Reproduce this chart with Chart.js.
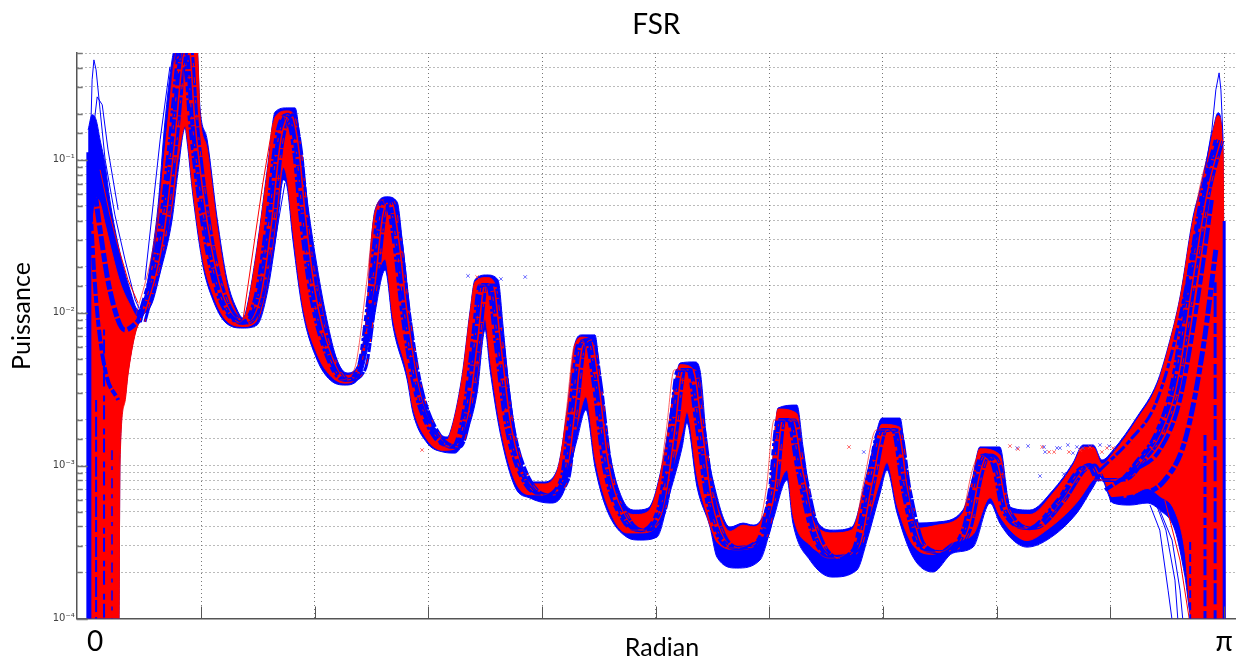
<!DOCTYPE html>
<html>
<head>
<meta charset="utf-8">
<title>FSR</title>
<script src="https://cdn.jsdelivr.net/npm/chart.js@4"></script>
<style>
body { margin: 0; background: #fff; }
canvas { display: block; }
</style>
</head>
<body>
<canvas id="fsr" width="1236" height="660"></canvas>
<script>
// FSR - all y values are log10(puissance)

const xTickValues = [0.021, 0.314, 0.628, 0.942, 1.257, 1.571, 1.885, 2.199, 2.513, 2.827, 3.142];
const xTickLabels = ['0', '', '', '', '', '', '', '', '', '', 'π'];

const envTopX = [0.002,0.013,0.024,0.035,0.049,0.062,0.090,0.118,0.140,0.154,0.173,0.195,0.214,0.234,0.242,0.303,0.311,0.331,0.358,0.386,0.414,0.430,0.441,0.469,0.497,0.519,0.552,0.574,0.588,0.610,0.635,0.662,0.690,0.718,0.745,0.773,0.781,0.795,0.828,0.856,0.872,0.905,0.939,0.994,1.002,1.035,1.058,1.071,1.104,1.135,1.149,1.163,1.196,1.232,1.259,1.298,1.326,1.348,1.367,1.403,1.417,1.444,1.480,1.514,1.550,1.591,1.624,1.638,1.679,1.693,1.713,1.729,1.776,1.812,1.840,1.887,1.909,1.961,1.978,2.006,2.061,2.113,2.155,2.172,2.196,2.246,2.265,2.293,2.348,2.420,2.445,2.467,2.522,2.550,2.605,2.669,2.724,2.752,2.780,2.804,2.835,2.901,2.956,2.987,3.020,3.056,3.075,3.095,3.111,3.125,3.139,3.144];
const envTop = [-0.804,-0.705,-0.738,-0.869,-1.033,-1.262,-1.609,-1.851,-1.982,-1.936,-1.700,-1.308,-0.758,-0.346,-0.267,-0.267,-0.653,-0.869,-1.373,-1.785,-1.982,-2.034,-1.962,-1.569,-1.065,-0.686,-0.660,-0.660,-0.869,-1.308,-1.700,-2.047,-2.309,-2.394,-2.355,-1.962,-1.635,-1.327,-1.242,-1.275,-1.569,-2.263,-2.636,-2.813,-2.787,-2.420,-1.982,-1.785,-1.753,-1.785,-2.093,-2.440,-2.944,-3.107,-3.107,-3.029,-2.636,-2.198,-2.145,-2.145,-2.420,-2.918,-3.225,-3.291,-3.278,-2.964,-2.460,-2.329,-2.322,-2.374,-2.878,-3.094,-3.402,-3.376,-3.389,-3.140,-2.623,-2.604,-2.878,-3.310,-3.422,-3.402,-3.049,-2.878,-2.689,-2.689,-3.049,-3.376,-3.369,-3.291,-3.094,-2.878,-2.878,-3.271,-3.291,-3.160,-2.983,-2.865,-2.865,-2.964,-2.898,-2.682,-2.460,-2.224,-1.897,-1.373,-1.196,-0.980,-0.804,-0.692,-0.935,-4.010];
const redTop = [-1.60,-1.45,-1.25,-1.28,-1.42,-1.55,-1.80,-1.95,-2.03,-1.97,-1.78,-1.42,-0.95,-0.50,-0.36,-0.267,-0.70,-0.93,-1.43,-1.83,-2.01,-2.05,-1.98,-1.59,-1.09,-0.72,-0.68,-0.72,-0.98,-1.42,-1.80,-2.12,-2.35,-2.41,-2.37,-1.98,-1.66,-1.35,-1.26,-1.38,-1.68,-2.34,-2.68,-2.83,-2.80,-2.44,-2.00,-1.80,-1.77,-1.88,-2.20,-2.53,-2.99,-3.12,-3.12,-3.04,-2.65,-2.21,-2.16,-2.22,-2.50,-2.98,-3.27,-3.32,-3.30,-2.98,-2.47,-2.34,-2.38,-2.46,-2.96,-3.16,-3.43,-3.39,-3.40,-3.15,-2.63,-2.66,-2.96,-3.36,-3.44,-3.42,-3.07,-2.92,-2.73,-2.75,-3.12,-3.41,-3.39,-3.31,-3.11,-2.89,-2.93,-3.31,-3.32,-3.18,-3.00,-2.88,-2.88,-2.99,-2.92,-2.70,-2.48,-2.24,-1.91,-1.40,-1.22,-1.00,-0.82,-0.71,-0.95,-4.01];

const envBottomX = [0.002,0.087,0.090,0.104,0.112,0.132,0.151,0.179,0.201,0.234,0.250,0.270,0.275,0.292,0.320,0.347,0.380,0.430,0.469,0.497,0.524,0.541,0.552,0.568,0.596,0.635,0.671,0.712,0.753,0.789,0.823,0.845,0.884,0.900,0.939,0.983,1.016,1.044,1.077,1.099,1.113,1.141,1.182,1.223,1.279,1.315,1.353,1.378,1.403,1.436,1.491,1.527,1.574,1.610,1.644,1.657,1.685,1.721,1.740,1.795,1.859,1.895,1.934,1.950,1.997,2.058,2.127,2.155,2.191,2.210,2.238,2.282,2.337,2.392,2.448,2.495,2.522,2.558,2.597,2.652,2.735,2.780,2.799,2.835,2.882,2.929,2.964,3.006,3.033,3.053,3.144];
const envBottom = [-4.04,-4.04,-2.944,-2.551,-2.394,-2.132,-2.028,-1.936,-1.740,-1.393,-1.085,-0.791,-0.869,-1.242,-1.700,-1.916,-2.060,-2.100,-2.080,-1.870,-1.458,-1.131,-1.177,-1.524,-2.001,-2.309,-2.440,-2.473,-2.420,-2.070,-1.720,-2.093,-2.440,-2.656,-2.852,-2.911,-2.918,-2.813,-2.525,-2.113,-2.374,-2.787,-3.140,-3.212,-3.245,-3.179,-2.833,-2.636,-3.009,-3.291,-3.468,-3.487,-3.468,-3.179,-2.878,-2.721,-3.140,-3.402,-3.598,-3.670,-3.618,-3.356,-3.094,-3.376,-3.618,-3.729,-3.683,-3.487,-3.179,-3.029,-3.310,-3.598,-3.696,-3.572,-3.533,-3.245,-3.376,-3.487,-3.533,-3.487,-3.310,-3.140,-3.075,-3.245,-3.258,-3.245,-3.291,-3.422,-3.716,-4.01,-4.01];
const redBottom = [-4.04,-4.04,-3.00,-2.58,-2.41,-2.14,-2.03,-1.90,-1.68,-1.30,-1.00,-0.78,-0.83,-1.20,-1.66,-1.88,-2.04,-2.09,-2.05,-1.80,-1.35,-1.05,-1.12,-1.46,-1.96,-2.27,-2.41,-2.46,-2.39,-1.88,-1.65,-2.04,-2.40,-2.62,-2.83,-2.90,-2.89,-2.74,-2.42,-2.04,-2.30,-2.74,-3.10,-3.19,-3.19,-3.10,-2.74,-2.55,-2.95,-3.25,-3.44,-3.44,-3.40,-3.08,-2.78,-2.65,-3.07,-3.38,-3.50,-3.55,-3.50,-3.25,-3.03,-3.32,-3.52,-3.58,-3.55,-3.38,-3.10,-2.98,-3.26,-3.52,-3.58,-3.50,-3.45,-3.21,-3.33,-3.44,-3.49,-3.42,-3.24,-3.09,-3.05,-3.21,-3.20,-3.15,-3.20,-3.30,-3.55,-4.01,-4.01];

// inner strands of the band
const spineX = [0.145,0.201,0.234,0.256,0.273,0.289,0.311,0.339,0.372,0.430,0.472,0.499,0.527,0.554,0.577,0.593,0.621,0.657,0.712,0.753,0.787,0.809,0.831,0.853,0.875,0.908,0.961,1.016,1.047,1.071,1.091,1.113,1.135,1.163,1.210,1.265,1.315,1.340,1.362,1.384,1.406,1.433,1.486,1.527,1.583,1.616,1.638,1.666,1.688,1.721,1.790,1.859,1.892,1.914,1.942,1.969,2.011,2.067,2.122,2.163,2.196,2.232,2.260,2.301,2.357,2.426,2.462,2.481,2.509,2.536,2.605,2.688,2.744,2.771,2.799,2.854,2.909,2.964,3.006,3.048,3.089,3.125];
const spine = [-2.060,-1.524,-0.869,-0.346,-0.267,-0.738,-1.196,-1.622,-1.916,-2.067,-1.884,-1.458,-0.869,-0.705,-0.935,-1.327,-1.851,-2.211,-2.440,-2.374,-1.818,-1.360,-1.262,-1.524,-1.982,-2.473,-2.800,-2.878,-2.636,-2.178,-1.818,-1.818,-2.211,-2.734,-3.094,-3.193,-3.094,-2.636,-2.211,-2.178,-2.473,-2.996,-3.356,-3.422,-3.291,-2.767,-2.374,-2.374,-2.702,-3.258,-3.539,-3.487,-3.160,-2.702,-2.702,-3.029,-3.454,-3.605,-3.553,-3.094,-2.767,-2.767,-3.160,-3.520,-3.566,-3.422,-3.029,-2.931,-2.996,-3.291,-3.409,-3.225,-3.029,-2.996,-3.094,-3.094,-2.964,-2.767,-2.440,-1.785,-1.196,-0.869];
const strandRightX = [0.159,0.215,0.248,0.270,0.287,0.303,0.325,0.353,0.386,0.444,0.486,0.513,0.541,0.568,0.591,0.607,0.635,0.671,0.726,0.767,0.801,0.823,0.845,0.867,0.889,0.922,0.975,1.030,1.061,1.085,1.105,1.127,1.149,1.177,1.224,1.279,1.329,1.354,1.376,1.398,1.420,1.447,1.500,1.541,1.597,1.630,1.652,1.680,1.702,1.735,1.804,1.873,1.906,1.928,1.956,1.983,2.025,2.081,2.136,2.177,2.210,2.246,2.274,2.315,2.371,2.440,2.476,2.495,2.523,2.550,2.619,2.702,2.758,2.785,2.813,2.868,2.923,2.978,3.020,3.062,3.103,3.139];
const strandMidX = [0.137,0.193,0.226,0.248,0.265,0.281,0.303,0.331,0.364,0.422,0.464,0.491,0.519,0.546,0.569,0.585,0.613,0.649,0.704,0.745,0.779,0.801,0.823,0.845,0.867,0.900,0.953,1.008,1.039,1.063,1.083,1.105,1.127,1.155,1.202,1.257,1.307,1.332,1.354,1.376,1.398,1.425,1.478,1.519,1.575,1.608,1.630,1.658,1.680,1.713,1.782,1.851,1.884,1.906,1.934,1.961,2.003,2.059,2.114,2.155,2.188,2.224,2.252,2.293,2.349,2.418,2.454,2.473,2.501,2.528,2.597,2.680,2.736,2.763,2.791,2.846,2.901,2.956,2.998,3.040,3.081,3.117];
const strandLeftX = [0.129,0.185,0.218,0.240,0.257,0.273,0.295,0.323,0.356,0.414,0.456,0.483,0.511,0.538,0.561,0.577,0.605,0.641,0.696,0.737,0.771,0.793,0.815,0.837,0.859,0.892,0.945,1.000,1.031,1.055,1.075,1.097,1.119,1.147,1.194,1.249,1.299,1.324,1.346,1.368,1.390,1.417,1.470,1.511,1.567,1.600,1.622,1.650,1.672,1.705,1.774,1.843,1.876,1.898,1.926,1.953,1.995,2.051,2.106,2.147,2.180,2.216,2.244,2.285,2.341,2.410,2.446,2.465,2.493,2.520,2.589,2.672,2.728,2.755,2.783,2.838,2.893,2.948,2.990,3.032,3.073,3.109];

// stray traces that leave the main band
const spikeLeftX = [0.007,0.013,0.018,0.024,0.035,0.049,0.076,0.104,0.132,0.145];
const spikeLeft = [-1.000,-0.476,-0.346,-0.411,-0.673,-1.000,-1.360,-1.654,-1.916,-1.982];
const spikeLeft2X = [0.013,0.027,0.041,0.057,0.085];
const spikeLeft2 = [-0.869,-0.588,-0.640,-0.935,-1.327];
const strayRedLeftX = [0.035,0.062,0.082,0.112,0.140];
const strayRedLeft = [-1.065,-1.360,-1.543,-1.785,-1.936];
const strayBluePeak1X = [0.159,0.201,0.228];
const strayBluePeak1 = [-1.785,-0.869,-0.391];
const strayRedPeak2X = [0.430,0.485,0.513];
const strayRedPeak2 = [-2.047,-1.151,-0.758];
const strayBluePeak2X = [0.469,0.513,0.546];
const strayBluePeak2 = [-2.067,-1.609,-1.151];
const spikeRightX = [3.089,3.108,3.119,3.128,3.133,3.139];
const spikeRight = [-1.065,-0.804,-0.542,-0.431,-0.542,-0.869];

// left fan and its columns
const fanAX = [0.013,0.035,0.062,0.104,0.145];
const fanA = [-1.065,-1.458,-1.851,-2.113,-2.047];
const fanBX = [0.007,0.024,0.049,0.085];
const fanB = [-1.262,-1.916,-2.374,-2.571];
const columnLeftX = [0.004,0.004];
const columnLeft = [-0.95,-4.04];
const columnAX = [0.024,0.024];
const columnA = [-2.57,-4.04];
const columnBX = [0.046,0.046];
const columnB = [-2.11,-4.04];
const columnCX = [0.068,0.068];
const columnC = [-2.90,-4.04];

// right wedge, its strands, drops and columns
const wedgeAX = [2.799,2.882,2.951,3.006,3.061,3.103];
const wedgeA = [-3.029,-2.833,-2.604,-2.178,-1.524,-1.000];
const wedgeBX = [2.813,2.896,2.964,3.020,3.069,3.108];
const wedgeB = [-3.160,-3.029,-2.898,-2.571,-1.916,-1.262];
const wedgeCX = [2.826,2.909,2.978,3.034,3.083,3.119];
const wedgeC = [-3.225,-3.193,-3.094,-2.833,-2.244,-1.589];
const dropAX = [2.937,2.964,2.987,2.998];
const dropA = [-3.258,-3.422,-3.815,-4.01];
const dropBX = [2.950,2.981,3.006,3.015];
const dropB = [-3.225,-3.422,-3.749,-4.04];
const dropCX = [2.964,2.998,3.020,3.029];
const dropC = [-3.291,-3.487,-3.815,-4.04];
const dropRedX = [2.978,3.020,3.048];
const dropRed = [-3.225,-3.618,-4.04];
const columnDX = [3.048,3.048];
const columnD = [-3.5,-4.04];
const columnEX = [3.089,3.089];
const columnE = [-2.8,-4.04];
const columnFX = [3.117,3.117];
const columnF = [-1.8,-4.04];
const columnRightX = [3.142,3.142];
const columnRight = [-1.4,-4.04];

const crossBlueX = [1.052,1.143,1.210,2.146,2.570,2.600,2.644,2.647,2.633,2.680,2.688,2.699,2.710,2.724,2.735,2.752,2.799,2.824];
const crossBlue = [-1.759,-1.779,-1.766,-2.911,-2.885,-2.872,-2.878,-2.911,-3.068,-2.885,-2.885,-3.055,-2.865,-2.918,-2.878,-2.885,-2.865,-2.872];
const crossRedX = [0.925,1.077,2.105,2.550,2.572,2.639,2.658,2.672,2.713,2.744,2.771,2.804,2.818,2.835];
const crossRed = [-2.898,-1.766,-2.878,-2.872,-2.891,-2.878,-2.911,-2.911,-2.911,-2.898,-2.878,-2.911,-2.885,-2.885];

const BLUE = '#0000ff';
const RED = '#ff0000';

function toPoints(xs, logs) {
    return xs.map((x, i) => ({ x: x, y: Math.pow(10, logs[i]) }));
}

function trace(xs, logs, color, width, extra) {
    return Object.assign({
        data: toPoints(xs, logs),
        borderColor: color,
        backgroundColor: color,
        borderWidth: width,
        pointRadius: 0,
        tension: 0,
        fill: false
    }, extra || {});
}

function band(xs, logs, color, extra) {
    return trace(xs, logs, color, 1, Object.assign({ cubicInterpolationMode: 'monotone' }, extra || {}));
}

function strand(xs, logs, color, width, dash) {
    return trace(xs, logs, color, width, { cubicInterpolationMode: 'monotone', borderDash: dash });
}

function crosses(xs, logs, color) {
    return {
        data: toPoints(xs, logs),
        showLine: false,
        pointStyle: 'crossRot',
        pointRadius: 2.5,
        pointBorderWidth: 1,
        pointBorderColor: color,
        borderColor: color
    };
}

// fixed text and the inward tick marks of the axes
const axisExtras = {
    id: 'axisExtras',
    afterDatasetsDraw(chart) {
        const { ctx, chartArea, scales } = chart;
        ctx.save();
        ctx.strokeStyle = '#555';
        ctx.lineWidth = 1;
        ctx.beginPath();
        scales.x.ticks.forEach((t, i) => {
            if (i === 0) return;
            const px = Math.round(scales.x.getPixelForValue(t.value)) + 0.5;
            ctx.moveTo(px, chartArea.bottom);
            ctx.lineTo(px, chartArea.bottom - 12);
        });
        ctx.stroke();
        ctx.strokeStyle = '#777';
        ctx.lineWidth = 1.5;
        ctx.beginPath();
        scales.y.ticks.forEach(t => {
            const py = Math.round(scales.y.getPixelForValue(t.value)) + 0.5;
            ctx.moveTo(chartArea.left, py);
            ctx.lineTo(chartArea.left + (t.label ? 11 : 6), py);
        });
        ctx.stroke();
        ctx.fillStyle = '#000';
        ctx.font = '25px Lato';
        ctx.textAlign = 'center';
        ctx.textBaseline = 'middle';
        ctx.fillText('Radian', 662, 648);
        ctx.translate(22, 316);
        ctx.rotate(-Math.PI / 2);
        ctx.fillText('Puissance', 0, 0);
        ctx.restore();
    }
};

const datasets = [
    band(envTopX, envTop, BLUE, { fill: '+1' }),
    band(envBottomX, envBottom, BLUE),
    band(envTopX, redTop, RED, { fill: '+1' }),
    band(envBottomX, redBottom, RED),
    strand(spineX, spine, BLUE, 4, [14, 2, 6, 1, 22, 3]),
    strand(strandRightX, spine, BLUE, 3, [18, 2, 9, 1]),
    strand(strandMidX, spine, BLUE, 2.5, [6, 3, 3, 2, 11, 4]),
    strand(spineX, spine, RED, 1, [4, 9, 2, 13]),
    strand(strandRightX, spine, RED, 1, [3, 11, 6, 17]),
    trace(strandLeftX, spine, 'rgba(255,0,0,0.6)', 1, { cubicInterpolationMode: 'monotone' }),
    trace(spikeLeftX, spikeLeft, BLUE, 1),
    trace(spikeLeft2X, spikeLeft2, BLUE, 1),
    trace(strayRedLeftX, strayRedLeft, RED, 1),
    trace(strayBluePeak1X, strayBluePeak1, BLUE, 1),
    trace(strayRedPeak2X, strayRedPeak2, RED, 1),
    trace(strayBluePeak2X, strayBluePeak2, BLUE, 1),
    trace(spikeRightX, spikeRight, BLUE, 1),
    strand(fanAX, fanA, BLUE, 5, [9, 2, 14, 3]),
    strand(fanBX, fanB, BLUE, 4, [7, 3, 12, 2]),
    trace(columnLeftX, columnLeft, BLUE, 5),
    strand(columnAX, columnA, BLUE, 2, [12, 5, 20, 3]),
    strand(columnBX, columnB, BLUE, 2, [6, 4, 14, 9]),
    strand(columnCX, columnC, BLUE, 1.5, [10, 6, 4, 8]),
    strand(wedgeAX, wedgeA, BLUE, 3, [12, 3, 5, 2]),
    strand(wedgeBX, wedgeB, BLUE, 4, [9, 2, 16, 3]),
    strand(wedgeCX, wedgeC, BLUE, 5, [14, 3, 7, 2]),
    trace(dropAX, dropA, BLUE, 1),
    trace(dropBX, dropB, BLUE, 1),
    trace(dropCX, dropC, BLUE, 1),
    trace(dropRedX, dropRed, RED, 1),
    strand(columnDX, columnD, BLUE, 2, [8, 4]),
    strand(columnEX, columnE, BLUE, 3, [16, 5, 7, 3]),
    strand(columnFX, columnF, BLUE, 3, [11, 3, 21, 6]),
    trace(columnRightX, columnRight, BLUE, 3),
    crosses(crossBlueX, crossBlue, 'rgba(60,60,255,0.75)'),
    crosses(crossRedX, crossRed, 'rgba(255,60,60,0.75)')
];
// later entries go on top
datasets.forEach((d, i) => { d.order = datasets.length - i; });

new Chart(document.getElementById('fsr'), {
    type: 'line',
    data: { datasets: datasets },
    options: {
        responsive: false,
        animation: false,
        layout: { padding: 0, autoPadding: false },
        plugins: {
            legend: { display: false },
            tooltip: { enabled: false },
            title: {
                display: true,
                text: 'FSR',
                fullSize: false,
                color: '#000',
                font: { family: 'Lato', size: 28, weight: 'normal' },
                padding: { top: 8, bottom: 11.4 }
            }
        },
        scales: {
            x: {
                type: 'linear',
                min: -0.0296,
                max: 3.1747,
                afterFit(scale) { scale.height = 41.5; },
                afterBuildTicks(scale) { scale.ticks = xTickValues.map(v => ({ value: v })); },
                border: { color: '#555', width: 1.5, dash: [1, 3] },
                grid: {
                    drawTicks: false,
                    color: ctx => (ctx.index === 0 ? 'rgba(0,0,0,0)' : '#777')
                },
                ticks: {
                    autoSkip: false,
                    maxRotation: 0,
                    padding: 0,
                    color: '#000',
                    font: { family: 'Lato', size: 28, lineHeight: 1.68 },
                    callback: (value, index) => xTickLabels[index]
                }
            },
            y: {
                type: 'logarithmic',
                min: 0.0001,
                max: 0.5,
                afterFit(scale) {
                    scale.width = 76.7;
                    scale.paddingTop = 0;
                    scale.paddingBottom = 0;
                },
                border: { color: '#555', width: 1.5, dash: [1, 3] },
                grid: { drawTicks: false, color: '#777' },
                ticks: {
                    autoSkip: false,
                    padding: 2,
                    color: '#444',
                    font: { family: 'DejaVu Sans', size: 10 },
                    callback(value) {
                        const exp = Math.log10(value);
                        if (Math.abs(exp - Math.round(exp)) > 1e-6) return '';
                        return { '-1': '10⁻¹', '-2': '10⁻²', '-3': '10⁻³', '-4': '10⁻⁴' }[Math.round(exp)];
                    }
                }
            }
        }
    },
    plugins: [axisExtras]
});
</script>
</body>
</html>
